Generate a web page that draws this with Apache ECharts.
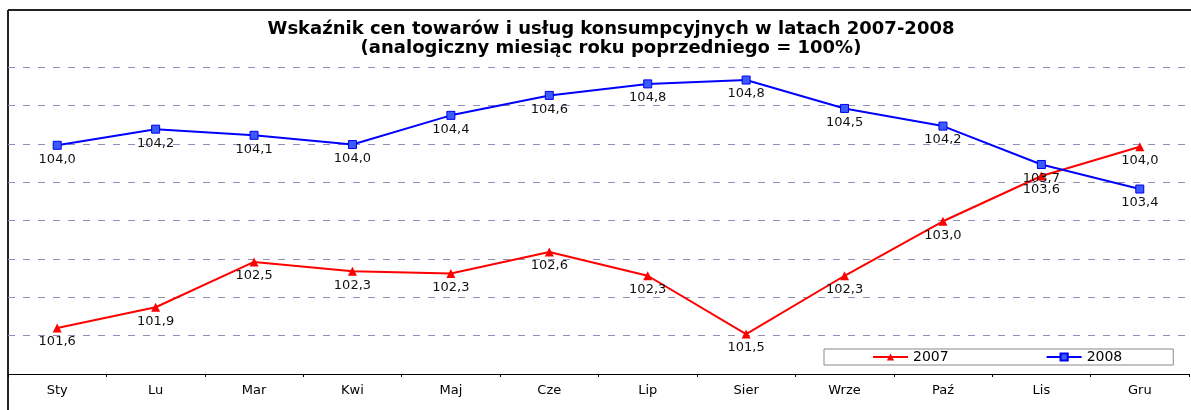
<!DOCTYPE html>
<html>
<head>
<meta charset="utf-8">
<title>Wskaźnik cen towarów i usług konsumpcyjnych</title>
<script src="https://cdn.jsdelivr.net/npm/echarts@6/dist/echarts.min.js"></script>
<style>
  html, body { margin: 0; padding: 0; background: #fff; }
  #chart { width: 1191px; height: 410px; }
</style>
</head>
<body>
<div id="chart"></div>
<script>
// dane
var months = ['Sty', 'Lu', 'Mar', 'Kwi', 'Maj', 'Cze', 'Lip', 'Sier', 'Wrze', 'Paź', 'Lis', 'Gru']
var values2007 = [101.6, 101.87, 102.46, 102.34, 102.31, 102.59, 102.28, 101.52, 102.28, 102.99, 103.58, 103.96]
var values2008 = [103.98, 104.19, 104.11, 103.99, 104.37, 104.63, 104.78, 104.83, 104.46, 104.23, 103.73, 103.41]

var font = 'DejaVu Sans'

function fmt(p) {
  return p.value.toFixed(1).replace('.', ',')
}

var chart = echarts.init(document.getElementById('chart'))

chart.setOption({
  animation: false,
  title: {
    text: 'Wskaźnik cen towarów i usług konsumpcyjnych w latach 2007-2008\n(analogiczny miesiąc roku poprzedniego = 100%)',
    left: 606,
    top: 15,
    textAlign: 'center',
    textStyle: {
      fontFamily: font,
      fontSize: 18,
      fontWeight: 'bold',
      color: '#000',
      lineHeight: 19
    }
  },
  legend: {
    left: 824,
    top: 349,
    orient: 'horizontal',
    itemWidth: 35,
    itemHeight: 9,
    itemGap: 97,
    padding: [1, 51, 1, 48],
    borderColor: '#888',
    borderWidth: 1,
    textStyle: { fontFamily: font, fontSize: 14, color: '#000' },
    data: ['2007', '2008']
  },
  grid: {
    left: 8,
    right: 2,
    top: 67,
    bottom: 36,
    containLabel: false
  },
  xAxis: {
    type: 'category',
    data: months,
    boundaryGap: true,
    axisLine: { lineStyle: { color: '#000', width: 1 } },
    axisTick: { show: true, interval: 0, length: 3, lineStyle: { color: '#000' } },
    axisLabel: { interval: 0, margin: 10, fontFamily: font, fontSize: 13, color: '#000' }
  },
  yAxis: {
    type: 'value',
    min: 101,
    max: 105,
    interval: 0.5,
    axisLine: { show: false },
    axisTick: { show: false },
    axisLabel: { show: false },
    splitLine: {
      lineStyle: { color: '#8e8eb6', type: [7, 8], width: 1 }
    }
  },
  series: [{
    name: '2007',
    type: 'line',
    data: values2007,
    symbol: 'triangle',
    symbolSize: 9,
    lineStyle: { color: '#ff0000', width: 2 },
    itemStyle: { color: '#ff0000' },
    label: {
      show: true,
      position: 'bottom',
      distance: 3,
      formatter: fmt,
      fontFamily: font,
      fontSize: 13,
      color: '#111'
    }
  }, {
    name: '2008',
    type: 'line',
    data: values2008,
    symbol: 'rect',
    symbolSize: 8,
    lineStyle: { color: '#0000ff', width: 2 },
    itemStyle: { color: '#3a5cff', borderColor: '#0000ee', borderWidth: 1 },
    label: {
      show: true,
      position: 'bottom',
      distance: 3,
      formatter: fmt,
      fontFamily: font,
      fontSize: 13,
      color: '#111'
    }
  }],
  // ramka wykresu (góra i lewa strona)
  graphic: [{
    type: 'line',
    shape: { x1: 8, y1: 10, x2: 1191, y2: 10 },
    style: { stroke: '#222', lineWidth: 2 }
  }, {
    type: 'line',
    shape: { x1: 8, y1: 10, x2: 8, y2: 410 },
    style: { stroke: '#222', lineWidth: 2 }
  }]
})
</script>
</body>
</html>
